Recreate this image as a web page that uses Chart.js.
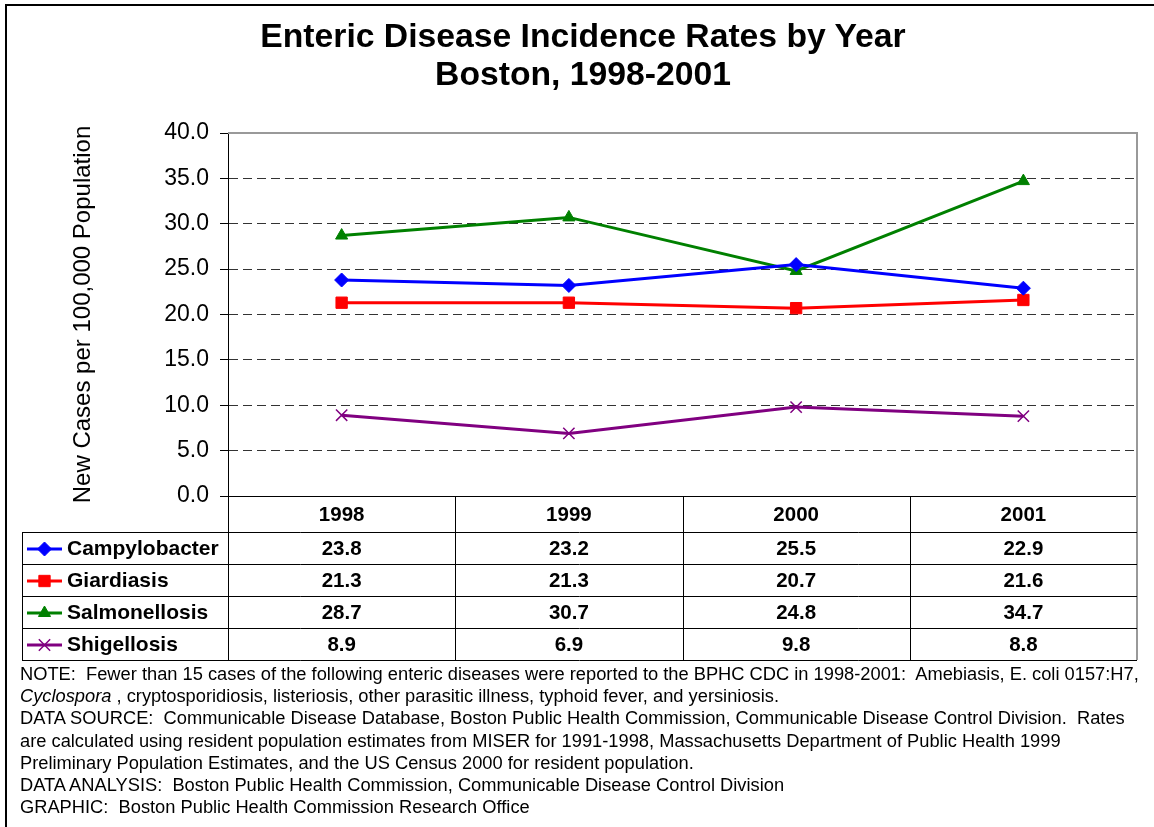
<!DOCTYPE html>
<html>
<head>
<meta charset="utf-8">
<title>Enteric Disease Incidence Rates by Year</title>
<script src="https://cdn.jsdelivr.net/npm/chart.js@4.4.1/dist/chart.umd.min.js"></script>
<style>
  body { margin: 0; width: 1154px; height: 827px; overflow: hidden; background: #fff; font-family: "Liberation Sans", Arial, sans-serif; color: #000; }
  #frame { position: absolute; left: 5px; top: 4px; width: 1300px; height: 1000px; border: 2px solid #000; }
  #wrap { position: absolute; left: 0; top: 0; width: 1154px; height: 827px; }
  #title { position: absolute; left: 6px; top: 16px; width: 1154px; text-align: center; font-weight: bold; font-size: 33.7px; line-height: 38px; }
  #notes { position: absolute; left: 20px; top: 663px; font-size: 18.3px; line-height: 22.2px; white-space: pre; }
</style>
</head>
<body>
<div id="frame"></div>
<div id="wrap"><canvas id="enteric" width="1154" height="827"></canvas></div>
<div id="title">Enteric Disease Incidence Rates by Year<br>Boston, 1998-2001</div>
<div id="notes">NOTE:  Fewer than 15 cases of the following enteric diseases were reported to the BPHC CDC in 1998-2001:  Amebiasis, E. coli 0157:H7,
<i>Cyclospora</i> , cryptosporidiosis, listeriosis, other parasitic illness, typhoid fever, and yersiniosis.
DATA SOURCE:  Communicable Disease Database, Boston Public Health Commission, Communicable Disease Control Division.  Rates
are calculated using resident population estimates from MISER for 1991-1998, Massachusetts Department of Public Health 1999
Preliminary Population Estimates, and the US Census 2000 for resident population.
DATA ANALYSIS:  Boston Public Health Commission, Communicable Disease Control Division
GRAPHIC:  Boston Public Health Commission Research Office</div>
<script>
// --- DATA ---
const years = ['1998', '1999', '2000', '2001'];
const seriesNames = ['Campylobacter', 'Giardiasis', 'Salmonellosis', 'Shigellosis'];
const campylobacter = [23.8, 23.2, 25.5, 22.9];
const giardiasis = [21.3, 21.3, 20.7, 21.6];
const salmonellosis = [28.7, 30.7, 24.8, 34.7];
const shigellosis = [8.9, 6.9, 9.8, 8.8];
const yTicks = [0, 5, 10, 15, 20, 25, 30, 35, 40];

const seriesValues = [campylobacter, giardiasis, salmonellosis, shigellosis];

// --- LOOK ---
const fontFamily = '"Liberation Sans", Arial, sans-serif';
const markers = [
    { color: '#0000FF', pointStyle: 'rectRot', radius: 7, border: 1 },
    { color: '#FF0000', pointStyle: 'rect', radius: 8, border: 1 },
    { color: '#008000', pointStyle: 'triangle', radius: 7, border: 1 },
    { color: '#800080', pointStyle: 'crossRot', radius: 8, border: 1.5 }
];
Chart.defaults.font.family = fontFamily;
Chart.defaults.color = '#000';

// Data table under the plot (years header, legend keys, values)
const dataTable = {
    id: 'dataTable',
    afterDraw(chart) {
        const ctx = chart.ctx;
        const area = chart.chartArea;
        const xScale = chart.scales.x;
        const bandW = (area.right - area.left) / years.length;
        const top = area.bottom;
        const headH = 36, rowH = 32;
        const tableLeft = 22;
        const bottom = top + headH + rowH * seriesNames.length;
        const crisp = v => Math.round(v) + 0.5;

        ctx.save();
        // plot frame, top and right side
        ctx.strokeStyle = '#999';
        ctx.lineWidth = 2;
        ctx.beginPath();
        ctx.moveTo(area.left, area.top);
        ctx.lineTo(area.right, area.top);
        ctx.lineTo(area.right, bottom);
        ctx.stroke();

        // table grid
        ctx.strokeStyle = '#000';
        ctx.lineWidth = 1;
        ctx.beginPath();
        for (let r = 0; r <= seriesNames.length; r++) {
            const y = crisp(top + headH + r * rowH);
            ctx.moveTo(tableLeft, y);
            ctx.lineTo(area.right, y);
        }
        ctx.moveTo(crisp(tableLeft), crisp(top + headH));
        ctx.lineTo(crisp(tableLeft), crisp(bottom));
        for (let i = 0; i < years.length; i++) {
            const xe = crisp(area.left + i * bandW);
            ctx.moveTo(xe, top);
            ctx.lineTo(xe, crisp(bottom));
        }
        ctx.stroke();

        // header row
        ctx.fillStyle = '#000';
        ctx.textAlign = 'center';
        ctx.textBaseline = 'middle';
        ctx.font = 'bold 20.5px ' + fontFamily;
        years.forEach((yr, i) => ctx.fillText(yr, xScale.getPixelForValue(i), top + headH / 2 + 1));

        // series rows
        chart.data.datasets.forEach((ds, r) => {
            const cy = top + headH + r * rowH + rowH / 2 + 1;
            const m = markers[r];
            ctx.strokeStyle = m.color;
            ctx.fillStyle = m.color;
            ctx.lineWidth = 3;
            ctx.beginPath();
            ctx.moveTo(27, cy);
            ctx.lineTo(62, cy);
            ctx.stroke();
            ctx.lineWidth = m.border;
            Chart.helpers.drawPoint(ctx, { pointStyle: m.pointStyle, radius: m.radius, rotation: 0, borderWidth: m.border }, 44.5, cy);

            ctx.fillStyle = '#000';
            ctx.textAlign = 'left';
            ctx.font = 'bold 21px ' + fontFamily;
            ctx.fillText(ds.label, 67, cy);

            ctx.textAlign = 'center';
            ctx.font = 'bold 20.5px ' + fontFamily;
            ds.data.forEach((v, i) => ctx.fillText(v.toFixed(1), xScale.getPixelForValue(i), cy));
        });
        ctx.restore();
    }
};

new Chart(document.getElementById('enteric'), {
    type: 'line',
    data: {
        labels: years,
        datasets: seriesNames.map((name, i) => ({
            label: name,
            data: seriesValues[i],
            borderColor: markers[i].color,
            backgroundColor: markers[i].color,
            borderWidth: 3,
            pointStyle: markers[i].pointStyle,
            pointRadius: markers[i].radius,
            pointBorderWidth: markers[i].border,
            tension: 0,
            fill: false
        }))
    },
    options: {
        responsive: false,
        animation: false,
        layout: { padding: { left: 0, right: 17, top: 133, bottom: 331 } },
        plugins: {
            legend: { display: false },
            tooltip: { enabled: false },
            title: { display: false }
        },
        scales: {
            x: {
                offset: true,
                grid: { display: false },
                ticks: { display: false },
                border: { color: '#000', width: 1 },
                afterFit(s) { s.height = 0; }
            },
            y: {
                min: 0,
                max: 40,
                afterFit(s) { s.width = 228; },
                afterBuildTicks(s) { s.ticks = yTicks.map(v => ({ value: v })); },
                ticks: {
                    callback: v => v.toFixed(1),
                    color: '#000',
                    font: { size: 23 },
                    padding: 11
                },
                grid: {
                    color: c => (c.tick && (c.tick.value === 0 || c.tick.value === 40)) ? 'rgba(0,0,0,0)' : '#333',
                    tickColor: '#000',
                    tickLength: 8,
                    lineWidth: 1
                },
                border: { color: '#000', width: 1, dash: [9, 5] },
                title: {
                    display: true,
                    text: 'New Cases per 100,000 Population',
                    color: '#000',
                    font: { size: 24 },
                    padding: { top: 69, bottom: 0 }
                }
            }
        }
    },
    plugins: [dataTable]
});
</script>
</body>
</html>
